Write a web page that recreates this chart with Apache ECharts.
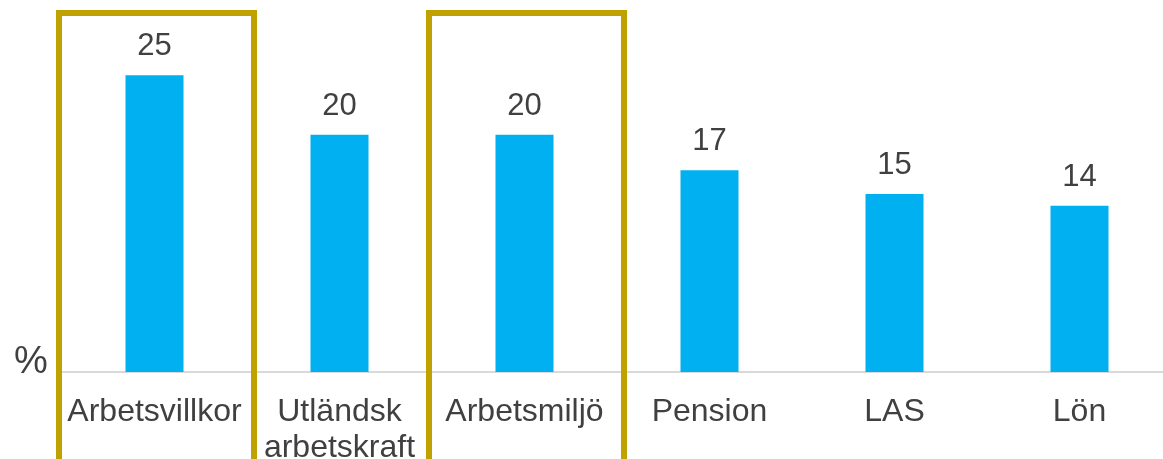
<!DOCTYPE html>
<html>
<head>
<meta charset="utf-8">
<script src="https://cdn.jsdelivr.net/npm/echarts@6/dist/echarts.min.js"></script>
<style>
  html, body { margin: 0; padding: 0; background: #fff; }
  #main { width: 1163px; height: 459px; }
</style>
</head>
<body>
<div id="main"></div>
<script>
var categories = ['Arbetsvillkor', 'Utländsk\narbetskraft', 'Arbetsmiljö', 'Pension', 'LAS', 'Lön'];
var values = [25, 20, 20, 17, 15, 14];
var highlighted = ['Arbetsvillkor', 'Arbetsmiljö'];
var unitLabel = '%';

var font = 'Arial, "Liberation Sans", sans-serif';
var textColor = '#404040';

var chart = echarts.init(document.getElementById('main'));

var option = {
  animation: false,
  title: {
    text: unitLabel,
    left: 9,
    top: 339,
    textStyle: { fontFamily: font, fontSize: 38, fontWeight: 'normal', color: textColor }
  },
  grid: {
    left: 62,
    width: 1110,
    top: 16,
    bottom: 87,
    containLabel: false,
    outerBoundsMode: 'none'
  },
  xAxis: {
    type: 'category',
    data: categories,
    axisTick: { show: false },
    axisLine: { lineStyle: { color: '#d9d9d9', width: 2 } },
    axisLabel: {
      interval: 0,
      margin: 22,
      fontFamily: font,
      fontSize: 32,
      lineHeight: 36,
      color: textColor
    }
  },
  yAxis: {
    type: 'value',
    min: 0,
    max: 30,
    show: false
  },
  series: [
    {
      type: 'bar',
      data: values,
      barWidth: 58,
      itemStyle: { color: '#00B0F0' },
      label: {
        show: true,
        position: 'top',
        distance: 13,
        fontFamily: font,
        fontSize: 31,
        color: textColor
      }
    }
  ]
};

chart.setOption(option);

// frames round the highlighted categories
var band = chart.convertToPixel({ xAxisIndex: 0 }, categories[1]) - chart.convertToPixel({ xAxisIndex: 0 }, categories[0]);
var frames = highlighted.map(function (name) {
  var cx = chart.convertToPixel({ xAxisIndex: 0 }, name);
  var w = band * 1.054;
  return {
    type: 'rect',
    shape: { x: cx - w / 2 + 2, y: 13, width: w, height: 460 },
    style: { fill: 'none', stroke: '#BFA100', lineWidth: 6 },
    z: 100
  };
});
chart.setOption({ graphic: frames });
</script>
</body>
</html>
